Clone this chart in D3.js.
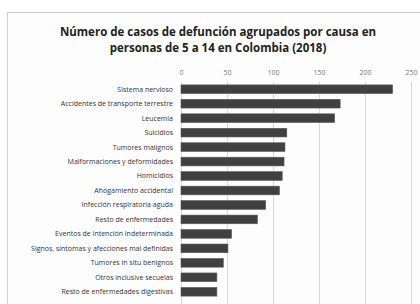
<!DOCTYPE html>
<html>
<head>
<meta charset="utf-8">
<script src="https://cdn.jsdelivr.net/npm/d3@7"></script>
<style>
  body { margin: 0; background: #fff; }
  .tick text { font-family: "Open Sans", sans-serif; }
</style>
</head>
<body>
<div id="chart"></div>
<script>
// Chart data
const causes = [
    "Sistema nervioso",
    "Accidentes de transporte terrestre",
    "Leucemia",
    "Suicidios",
    "Tumores malignos",
    "Malformaciones y deformidades",
    "Homicidios",
    "Ahogamiento accidental",
    "Infección respiratoria aguda",
    "Resto de enfermedades",
    "Eventos de intención indeterminada",
    "Signos, síntomas y afecciones mal definidas",
    "Tumores in situ benignos",
    "Otros inclusive secuelas",
    "Resto de enfermedades digestivas"
];
const cases = [230, 173, 167, 115, 113, 112, 110, 107, 92, 83, 55, 51, 46, 39, 39];
const xTicks = [0, 50, 100, 150, 200, 250];

const svgWidth = 420;
const svgHeight = 304;

const margin = { top: 82, right: 9, bottom: 5, left: 181 };
const width = svgWidth - (margin.left + margin.right);
const height = svgHeight - (margin.top + margin.bottom);

const svg = d3.select("#chart")
              .append("svg")
              .attr("width", svgWidth)
              .attr("height", svgHeight);

// Chart frame
svg.append("rect")
   .attr("x", 7.5)
   .attr("y", 12.5)
   .attr("width", 420)
   .attr("height", 300)
   .attr("fill", "#fdfdfd")
   .attr("stroke", "#cfcfcf");

// Title
const title = svg.append("text")
                 .attr("text-anchor", "middle")
                 .attr("font-family", "Open Sans, sans-serif")
                 .attr("font-weight", "bold")
                 .attr("font-size", 11.5)
                 .attr("fill", "#222");
title.append("tspan").attr("x", 218).attr("y", 36)
     .text("Número de casos de defunción agrupados por causa en");
title.append("tspan").attr("x", 218).attr("y", 52)
     .text("personas de 5 a 14 en Colombia (2018)");

const chartGroup = svg.append("g")
                      .attr("transform", `translate(${margin.left}, ${margin.top})`);

const xScale = d3.scaleLinear()
                 .domain([0, 250])
                 .range([0, width]);

const yScale = d3.scaleBand()
                 .domain(causes)
                 .range([0, height])
                 .paddingInner(0.4)
                 .paddingOuter(0.2);

// Gridlines + top axis
const xAxis = chartGroup.append("g")
                        .call(d3.axisTop(xScale)
                                .tickValues(xTicks)
                                .tickSize(-height - margin.bottom)
                                .tickPadding(7));
xAxis.select(".domain").remove();
xAxis.selectAll(".tick line")
     .attr("stroke", "#d9d9d9");
xAxis.selectAll(".tick text")
     .attr("font-size", 7)
     .attr("fill", "#777");

// Bars
chartGroup.append("g")
          .selectAll("rect")
          .data(cases)
          .enter()
          .append("rect")
          .attr("x", xScale(0))
          .attr("y", (d, i) => yScale(causes[i]))
          .attr("width", d => xScale(d) - xScale(0))
          .attr("height", yScale.bandwidth())
          .attr("fill", "#404040")
          .attr("stroke", "#595959")
          .attr("stroke-width", 0.6);

// Category labels
chartGroup.append("g")
          .selectAll("text")
          .data(causes)
          .enter()
          .append("text")
          .text(d => d)
          .attr("x", -8)
          .attr("y", d => yScale(d) + yScale.bandwidth() / 2)
          .attr("dy", "0.35em")
          .attr("text-anchor", "end")
          .attr("font-family", "Open Sans, sans-serif")
          .attr("font-size", 7)
          .attr("fill", "#333");
</script>
</body>
</html>
